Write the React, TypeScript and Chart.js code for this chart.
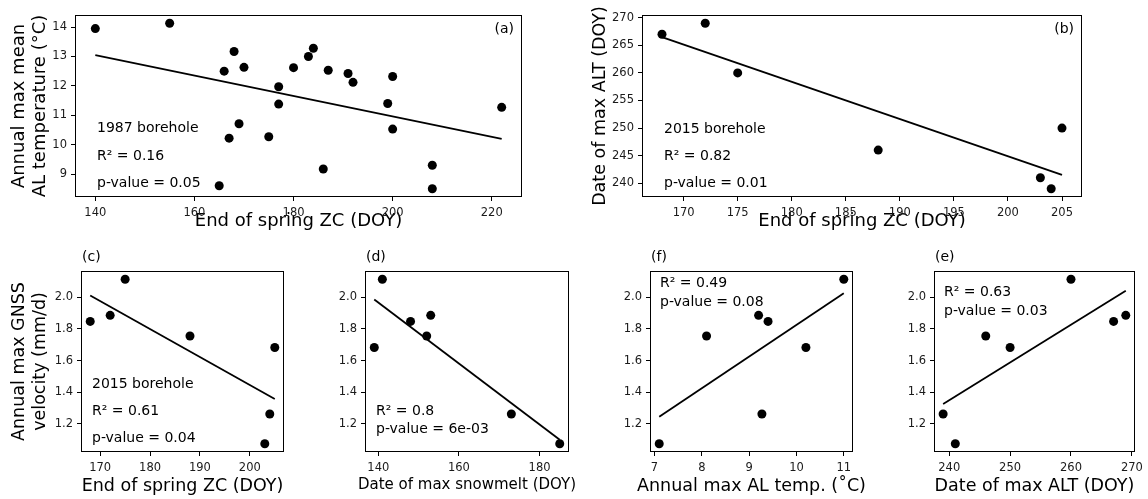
import React, { useEffect, useRef } from 'react';
import { Chart, registerables } from 'chart.js';

Chart.register(...registerables);

const FONT = "'DejaVu Sans', 'Liberation Sans', sans-serif";
const W = 1148;
const H = 499;

// ---- Panel (a): 1987 borehole, end of spring ZC vs annual max mean AL temperature
const aZC = [140, 155, 165, 166, 167, 168, 169, 170, 175, 177, 177, 180, 183, 184, 186, 187, 191, 192, 199, 200, 200, 208, 208, 222];
const aTemp = [13.95, 14.13, 8.6, 12.5, 10.22, 13.17, 10.71, 12.63, 10.27, 11.97, 11.38, 12.62, 13.0, 13.28, 9.17, 12.53, 12.42, 12.12, 11.4, 12.32, 10.53, 9.3, 8.5, 11.27];
const aFitX = [140, 222];
const aFitY = [13.05, 10.2];
const aXTicks = [140, 160, 180, 200, 220];
const aYTicks = [9, 10, 11, 12, 13, 14];

// ---- Panel (b): 2015 borehole, end of spring ZC vs date of max ALT
const bZC = [168, 172, 175, 188, 203, 204, 205];
const bALT = [267, 269, 260, 246, 241, 239, 250];
const bFitX = [168, 205];
const bFitY = [266.5, 241.5];
const bXTicks = [170, 175, 180, 185, 190, 195, 200, 205];
const bYTicks = [240, 245, 250, 255, 260, 265, 270];

// ---- Panel (c): end of spring ZC vs GNSS velocity
const cZC = [168, 172, 175, 188, 203, 204, 205];
const cVel = [1.847, 1.885, 2.113, 1.755, 1.075, 1.263, 1.682];
const cFitX = [168, 205];
const cFitY = [2.01, 1.357];
const cXTicks = [170, 180, 190, 200];

// ---- Panel (d): date of max snowmelt vs GNSS velocity
const dMelt = [139, 141, 148, 152, 153, 173, 185];
const dVel = [1.682, 2.113, 1.847, 1.755, 1.885, 1.263, 1.075];
const dFitX = [139, 185];
const dFitY = [1.985, 1.1];
const dXTicks = [140, 160, 180];

// ---- Panel (f): annual max AL temp vs GNSS velocity
const fTemp = [7.1, 8.1, 9.2, 9.27, 9.4, 10.2, 11.0];
const fVel = [1.075, 1.755, 1.885, 1.263, 1.847, 1.682, 2.113];
const fFitX = [7.1, 11.0];
const fFitY = [1.245, 2.025];
const fXTicks = [7, 8, 9, 10, 11];

// ---- Panel (e): date of max ALT vs GNSS velocity
const eALT = [239, 241, 246, 250, 260, 267, 269];
const eVel = [1.263, 1.075, 1.755, 1.682, 2.113, 1.847, 1.885];
const eFitX = [239, 269];
const eFitY = [1.326, 2.04];
const eXTicks = [240, 250, 260, 270];

const velYTicks = [1.2, 1.4, 1.6, 1.8, 2.0];

type TextItem = { text: string; x: number; y: number; size: number; align?: CanvasTextAlign };

type PanelSpec = {
  xs: number[];
  ys: number[];
  fitX: number[];
  fitY: number[];
  xTicks: number[];
  yTicks: number[];
  yDec: number;
  rect: { L: number; R: number; T: number; B: number };
  leftPad: number;
  yTitle?: string | string[];
  yTitleSize?: number;
  yTitleCenter?: number;
  xTitle: string;
  xTitleSize: number;
  xTitleCenter: number;
  texts: TextItem[];
};

function padRange(vals: number[]) {
  const mn = Math.min(...vals);
  const mx = Math.max(...vals);
  const m = (mx - mn) * 0.05;
  return [mn - m, mx + m];
}

// Let axis titles use their natural width instead of being squeezed to the axis length.
function widenTitle(s: any) {
  if (s.__widened) return;
  s.__widened = true;
  const orig = s.drawTitle;
  s.drawTitle = function (...args: any[]) {
    const { left, right, top, bottom } = this;
    if (this.isHorizontal()) {
      this.left = left - 300;
      this.right = right + 300;
    } else {
      this.top = top - 300;
      this.bottom = bottom + 300;
    }
    orig.apply(this, args);
    this.left = left;
    this.right = right;
    this.top = top;
    this.bottom = bottom;
  };
}

const framePlugin = {
  id: 'frame',
  afterDatasetsDraw(chart: any, _args: any, opts: any) {
    const { ctx, chartArea: ca } = chart;
    ctx.save();
    ctx.strokeStyle = '#000';
    ctx.lineWidth = 1;
    const l = Math.round(ca.left) + 0.5;
    const t = Math.round(ca.top) + 0.5;
    const r = Math.round(ca.right) - 0.5;
    const b = Math.round(ca.bottom) - 0.5;
    ctx.strokeRect(l, t, r - l, b - t);
    const texts: TextItem[] = opts.texts || [];
    for (const it of texts) {
      ctx.font = `${it.size}px ${FONT}`;
      ctx.fillStyle = '#000';
      ctx.textAlign = it.align || 'left';
      ctx.textBaseline = 'middle';
      ctx.fillText(it.text, it.x, it.y);
    }
    ctx.restore();
  },
};

function makeConfig(p: PanelSpec) {
  const { L, R, T, B } = p.rect;
  const [xmin, xmax] = padRange(p.xs);
  const [ymin, ymax] = padRange(p.ys);
  const yW = L - p.leftPad;
  const tickFont = { family: FONT, size: 11.5 };
  const yTitleSize = p.yTitleSize || 18;
  const yLh = yTitleSize * 1.2;
  const xLh = p.xTitleSize * 1.2;
  return {
    type: 'scatter',
    data: {
      datasets: [
        {
          data: p.fitX.map((x, i) => ({ x, y: p.fitY[i] })),
          showLine: true,
          borderColor: '#000',
          borderWidth: 1.8,
          pointRadius: 0,
          fill: false,
          clip: false,
        },
        {
          data: p.xs.map((x, i) => ({ x, y: p.ys[i] })),
          pointRadius: 4.5,
          backgroundColor: '#000',
          borderWidth: 0,
          clip: false,
        },
      ],
    },
    options: {
      animation: false,
      responsive: false,
      devicePixelRatio: 1,
      events: [],
      layout: { padding: { left: p.leftPad, top: T, right: W - R, bottom: 0 } },
      plugins: {
        legend: { display: false },
        tooltip: { enabled: false },
        frame: { texts: p.texts },
      },
      scales: {
        x: {
          type: 'linear',
          min: xmin,
          max: xmax,
          afterFit: (s: any) => {
            s.height = H - B;
            widenTitle(s);
          },
          afterBuildTicks: (s: any) => {
            s.ticks = p.xTicks.map((v) => ({ value: v }));
          },
          grid: { drawOnChartArea: false, drawTicks: true, tickLength: 4, color: '#000', lineWidth: 1 },
          border: { display: false },
          ticks: {
            font: tickFont,
            color: '#1a1a1a',
            padding: 5,
            maxRotation: 0,
            autoSkip: false,
            callback: (v: any) => String(v),
          },
          title: {
            display: true,
            text: p.xTitle,
            color: '#000',
            font: { family: FONT, size: p.xTitleSize, lineHeight: 1.2 },
            padding: { top: 0, bottom: H - p.xTitleCenter - xLh / 2 },
          },
        },
        y: {
          type: 'linear',
          min: ymin,
          max: ymax,
          afterFit: (s: any) => {
            s.width = yW;
            widenTitle(s);
          },
          afterBuildTicks: (s: any) => {
            s.ticks = p.yTicks.map((v) => ({ value: v }));
          },
          grid: { drawOnChartArea: false, drawTicks: true, tickLength: 4, color: '#000', lineWidth: 1 },
          border: { display: false },
          ticks: {
            font: tickFont,
            color: '#1a1a1a',
            padding: 4,
            autoSkip: false,
            callback: (v: any) => Number(v).toFixed(p.yDec),
          },
          title: {
            display: !!p.yTitle,
            text: p.yTitle || '',
            color: '#000',
            font: { family: FONT, size: yTitleSize, lineHeight: 1.2 },
            padding: { top: (p.yTitleCenter || 0) - p.leftPad - yLh / 2, bottom: 0 },
          },
        },
      },
    },
    plugins: [framePlugin],
  };
}

const panels: PanelSpec[] = [
  {
    xs: aZC, ys: aTemp, fitX: aFitX, fitY: aFitY, xTicks: aXTicks, yTicks: aYTicks, yDec: 0,
    rect: { L: 75, R: 522, T: 15, B: 197 }, leftPad: 0,
    yTitle: ['Annual max mean', 'AL temperature (°C)'], yTitleSize: 18, yTitleCenter: 19,
    xTitle: 'End of spring ZC (DOY)', xTitleSize: 18, xTitleCenter: 221,
    texts: [
      { text: '(a)', x: 514, y: 29, size: 14, align: 'right' },
      { text: '1987 borehole', x: 97, y: 128, size: 14 },
      { text: 'R² = 0.16', x: 97, y: 156, size: 14 },
      { text: 'p-value = 0.05', x: 97, y: 183, size: 14 },
    ],
  },
  {
    xs: bZC, ys: bALT, fitX: bFitX, fitY: bFitY, xTicks: bXTicks, yTicks: bYTicks, yDec: 0,
    rect: { L: 642, R: 1082, T: 15, B: 197 }, leftPad: 575,
    yTitle: 'Date of max ALT (DOY)', yTitleSize: 17.5, yTitleCenter: 600,
    xTitle: 'End of spring ZC (DOY)', xTitleSize: 18, xTitleCenter: 221,
    texts: [
      { text: '(b)', x: 1074, y: 29, size: 14, align: 'right' },
      { text: '2015 borehole', x: 664, y: 129, size: 14 },
      { text: 'R² = 0.82', x: 664, y: 156, size: 14 },
      { text: 'p-value = 0.01', x: 664, y: 183, size: 14 },
    ],
  },
  {
    xs: cZC, ys: cVel, fitX: cFitX, fitY: cFitY, xTicks: cXTicks, yTicks: velYTicks, yDec: 1,
    rect: { L: 81, R: 284, T: 271, B: 452 }, leftPad: 0,
    yTitle: ['Annual max GNSS', 'velocity (mm/d)'], yTitleSize: 17.5, yTitleCenter: 19,
    xTitle: 'End of spring ZC (DOY)', xTitleSize: 17.5, xTitleCenter: 486.5,
    texts: [
      { text: '(c)', x: 82, y: 257, size: 14 },
      { text: '2015 borehole', x: 92, y: 384, size: 14 },
      { text: 'R² = 0.61', x: 92, y: 411, size: 14 },
      { text: 'p-value = 0.04', x: 92, y: 438, size: 14 },
    ],
  },
  {
    xs: dMelt, ys: dVel, fitX: dFitX, fitY: dFitY, xTicks: dXTicks, yTicks: velYTicks, yDec: 1,
    rect: { L: 365, R: 569, T: 271, B: 452 }, leftPad: 300,
    xTitle: 'Date of max snowmelt (DOY)', xTitleSize: 15, xTitleCenter: 485.5,
    texts: [
      { text: '(d)', x: 366, y: 257, size: 14 },
      { text: 'R² = 0.8', x: 376, y: 411, size: 14 },
      { text: 'p-value = 6e-03', x: 376, y: 429, size: 14 },
    ],
  },
  {
    xs: fTemp, ys: fVel, fitX: fFitX, fitY: fFitY, xTicks: fXTicks, yTicks: velYTicks, yDec: 1,
    rect: { L: 650, R: 853, T: 271, B: 452 }, leftPad: 590,
    xTitle: 'Annual max AL temp. (˚C)', xTitleSize: 17.5, xTitleCenter: 486.5,
    texts: [
      { text: '(f)', x: 651, y: 257, size: 14 },
      { text: 'R² = 0.49', x: 660, y: 283, size: 14 },
      { text: 'p-value = 0.08', x: 660, y: 302, size: 14 },
    ],
  },
  {
    xs: eALT, ys: eVel, fitX: eFitX, fitY: eFitY, xTicks: eXTicks, yTicks: velYTicks, yDec: 1,
    rect: { L: 934, R: 1137, T: 271, B: 452 }, leftPad: 870,
    xTitle: 'Date of max ALT (DOY)', xTitleSize: 17.5, xTitleCenter: 486.5,
    texts: [
      { text: '(e)', x: 935, y: 257, size: 14 },
      { text: 'R² = 0.63', x: 944, y: 292, size: 14 },
      { text: 'p-value = 0.03', x: 944, y: 311, size: 14 },
    ],
  },
];

function Panel({ spec }: { spec: PanelSpec }) {
  const ref = useRef<HTMLCanvasElement | null>(null);
  useEffect(() => {
    if (!ref.current) return;
    const chart = new Chart(ref.current, makeConfig(spec) as any);
    return () => chart.destroy();
  }, [spec]);
  return (
    <canvas
      ref={ref}
      width={W}
      height={H}
      style={{ position: 'absolute', left: 0, top: 0, width: W, height: H }}
    />
  );
}

export default function App() {
  return (
    <div style={{ position: 'fixed', left: 0, top: 0, width: W, height: H, background: '#fff', overflow: 'hidden' }}>
      {panels.map((p, i) => (
        <Panel key={i} spec={p} />
      ))}
    </div>
  );
}
